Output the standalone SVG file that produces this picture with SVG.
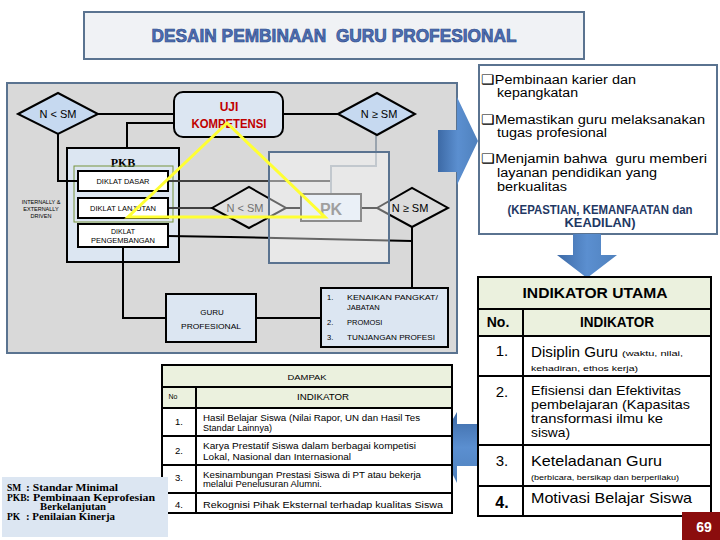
<svg xmlns="http://www.w3.org/2000/svg" width="720" height="540" viewBox="0 0 720 540">
<defs>
<linearGradient id="blueH" x1="0" y1="0" x2="1" y2="0">
<stop offset="0" stop-color="#3d6aa6"/><stop offset="0.5" stop-color="#5b8fd0"/><stop offset="1" stop-color="#4f81bd"/>
</linearGradient>
<linearGradient id="blueV" x1="0" y1="0" x2="0" y2="1">
<stop offset="0" stop-color="#3d6aa6"/><stop offset="0.5" stop-color="#5b8fd0"/><stop offset="1" stop-color="#4f81bd"/>
</linearGradient>
<style>
.s{font-family:"Liberation Sans",Arial,sans-serif}
.ser{font-family:"Liberation Serif","Times New Roman",serif;font-weight:bold}
.blk{stroke:#000;stroke-width:2}
.ln{fill:none;stroke:#000;stroke-width:2}
.lng{fill:none;stroke:#9aa4ae;stroke-width:2}
.hdr{fill:#ebf1de}
.lb{fill:#dce6f2}
.c{text-anchor:middle}
</style>
</defs>
<rect width="720" height="540" fill="#ffffff"/>

<g id="title">
<rect x="84" y="12" width="500" height="47" fill="#f0f2f5" stroke="#5a7390" stroke-width="2"/>
<text class="s c" x="334" y="42" font-size="19" font-weight="bold" fill="#4f6fb4" stroke="#2c4a86" stroke-width="0.7" textLength="365" lengthAdjust="spacingAndGlyphs" xml:space="preserve" style="white-space:pre">DESAIN PEMBINAAN  GURU PROFESIONAL</text>
</g>

<g id="panel">
<rect x="7" y="83" width="450" height="270" fill="#d9d9d9" stroke="#5a7390" stroke-width="2"/>
</g>

<g id="arrow-right">
<path d="M438,130 H457 V97 L478,141 L457,185 V172 H438 Z" fill="url(#blueH)"/>
</g>

<g id="pkb">
<rect x="67" y="148" width="112" height="114" class="lb blk"/>
<text class="ser c" x="123" y="167" font-size="12">PKB</text>
<rect x="74" y="166" width="99" height="56" fill="none" stroke="#77933c" stroke-width="1"/>
</g>

<g id="connectors">
<polyline class="ln" points="98,114 174,114"/>
<polyline class="ln" points="283,114 338,114"/>
<polyline class="ln" points="58,134 58,181 78,181"/>
<polyline class="ln" points="127,148 127,123 174,123"/>
<polyline fill="none" stroke="#404040" stroke-width="2" points="168,181 331,181"/>
<polyline class="lng" points="331,194 331,166 376,166 376,135"/>
<polyline fill="none" stroke="#404040" stroke-width="2" points="168,208 212,208"/>
<polyline class="ln" points="286,208 301,208"/>
<polyline class="ln" points="361,208 377,208"/>
<polyline class="ln" points="168,236 230,237 320,239 412,241"/>
<polyline class="ln" points="412,227 412,288"/>
<polyline class="ln" points="123,247 123,318 166,318"/>
<polyline class="ln" points="256,318 321,318"/>
</g>

<g id="diamond-left">
<polygon points="18,114 58,93 98,114 58,134" fill="#c6d9f0" stroke="#000" stroke-width="2"/>
<text class="s c" x="58" y="118" font-size="11">N &lt; SM</text>
</g>

<g id="uji">
<rect x="174" y="92" width="109" height="45" rx="9" fill="#dce6f2" stroke="#000" stroke-width="2"/>
<text class="s c" x="229" y="111" font-size="12" font-weight="bold" fill="#c00000">UJI</text>
<text class="s c" x="229" y="128" font-size="12" font-weight="bold" fill="#c00000" textLength="75" lengthAdjust="spacingAndGlyphs">KOMPETENSI</text>
</g>

<g id="diamond-top-right">
<polygon points="338,114 377,93 415,114 377,135" fill="#c6d9f0" stroke="#000" stroke-width="2"/>
<text class="s c" x="379" y="118" font-size="11">N ≥ SM</text>
</g>

<g id="diklat-dasar">
<rect x="78" y="171" width="90" height="20" fill="#fff" class="blk"/>
<text class="s c" x="123" y="184" font-size="7" textLength="53" lengthAdjust="spacingAndGlyphs">DIKLAT DASAR</text>
</g>
<g id="diklat-lanjutan">
<rect x="78" y="198" width="90" height="20" fill="#fff" class="blk"/>
<text class="s c" x="123" y="211" font-size="7" textLength="66" lengthAdjust="spacingAndGlyphs">DIKLAT LANJUTAN</text>
</g>
<g id="diklat-pengembangan">
<rect x="78" y="224" width="90" height="23" fill="#fff" class="blk"/>
<text class="s c" x="123" y="234" font-size="7">DIKLAT</text>
<text class="s c" x="123" y="243" font-size="7" textLength="64" lengthAdjust="spacingAndGlyphs">PENGEMBANGAN</text>
</g>

<g id="driven">
<text class="s c" x="41" y="204" font-size="5.5">INTERNALLY &amp;</text>
<text class="s c" x="41" y="211" font-size="5.5">EXTERNALLY</text>
<text class="s c" x="41" y="218" font-size="5.5">DRIVEN</text>
</g>

<g id="diamond-mid">
<polygon points="212,208 249,187 286,208 249,228" fill="#e0e0e0" stroke="#000" stroke-width="2"/>
<text class="s c" x="245" y="212" font-size="11" fill="#6f6f6f">N &lt; SM</text>
</g>

<g id="pk">
<rect x="301" y="194" width="60" height="27" fill="#dce6f2" stroke="#404040" stroke-width="2"/>
<text class="s c" x="331" y="215" font-size="16" font-weight="bold" fill="#606060">PK</text>
</g>

<g id="diamond-low-right">
<polygon points="377,208 412,188 448,208 412,227" fill="#dcdcdc" stroke="#000" stroke-width="2"/>
<text class="s c" x="410" y="212" font-size="11">N ≥ SM</text>
</g>

<g id="pk-area">
<rect x="269" y="152" width="120" height="111" fill="#ffffff" fill-opacity="0.4" stroke="#5a7390" stroke-width="2"/>
</g>

<g id="triangle">
<polygon points="227,123 128,217 325,217" fill="none" stroke="#ffff33" stroke-width="3"/>
</g>

<g id="guru">
<rect x="166" y="294" width="90" height="48" class="lb blk"/>
<text class="s c" x="212" y="315" font-size="8">GURU</text>
<text class="s c" x="211" y="329" font-size="8" textLength="60" lengthAdjust="spacingAndGlyphs">PROFESIONAL</text>
</g>

<g id="benefits">
<rect x="321" y="288" width="127" height="59" class="lb blk"/>
<g class="s" font-size="7.5">
<text x="327" y="300">1.</text><text x="347" y="300" textLength="91" lengthAdjust="spacingAndGlyphs">KENAIKAN PANGKAT/</text>
<text x="347" y="310">JABATAN</text>
<text x="327" y="325">2.</text><text x="347" y="325">PROMOSI</text>
<text x="327" y="340">3.</text><text x="347" y="340" textLength="88" lengthAdjust="spacingAndGlyphs">TUNJANGAN PROFESI</text>
</g>
</g>

<g id="tujuan">
<rect x="479" y="65" width="238" height="169" fill="#fff" stroke="#5a7390" stroke-width="2"/>
<g class="s" font-size="12.5">
<text x="481" y="84" textLength="155" lengthAdjust="spacingAndGlyphs">❑Pembinaan karier dan</text>
<text x="497" y="97" textLength="81" lengthAdjust="spacingAndGlyphs">kepangkatan</text>
<text x="481" y="124" textLength="224" lengthAdjust="spacingAndGlyphs">❑Memastikan guru melaksanakan</text>
<text x="497" y="137" textLength="110" lengthAdjust="spacingAndGlyphs">tugas profesional</text>
<text x="481" y="163" textLength="226" lengthAdjust="spacingAndGlyphs" xml:space="preserve" style="white-space:pre">❑Menjamin bahwa  guru memberi</text>
<text x="497" y="177" textLength="160" lengthAdjust="spacingAndGlyphs">layanan pendidikan yang</text>
<text x="497" y="191" textLength="70" lengthAdjust="spacingAndGlyphs">berkualitas</text>
</g>
<text class="s c" x="600" y="214" font-size="12" font-weight="bold" fill="#1f3864" textLength="185" lengthAdjust="spacingAndGlyphs">(KEPASTIAN, KEMANFAATAN dan</text>
<text class="s c" x="600" y="227" font-size="12" font-weight="bold" fill="#1f3864" textLength="71" lengthAdjust="spacingAndGlyphs">KEADILAN)</text>
</g>

<g id="arrow-down">
<path d="M573,234 H601 V255 H617 L587,278 L557,255 H573 Z" fill="url(#blueH)"/>
</g>

<g id="arrow-left">
<path d="M479,424 V466 H457 V483 L438,445 L457,412 V424 Z" fill="url(#blueV)"/>
</g>

<g id="indikator-utama">
<rect x="478" y="277" width="233" height="32" class="hdr"/>
<rect x="478" y="309" width="233" height="27" class="hdr"/>
<rect x="478" y="336" width="233" height="180" fill="#fff"/>
<g class="ln">
<rect x="478" y="277" width="233" height="239"/>
<line x1="478" y1="309" x2="711" y2="309"/>
<line x1="478" y1="336" x2="711" y2="336"/>
<line x1="478" y1="376" x2="711" y2="376"/>
<line x1="478" y1="445" x2="711" y2="445"/>
<line x1="478" y1="486" x2="711" y2="486"/>
<line x1="523" y1="309" x2="523" y2="516"/>
</g>
<g class="s">
<text class="c" x="595" y="298" font-size="14" font-weight="bold" textLength="145" lengthAdjust="spacingAndGlyphs">INDIKATOR UTAMA</text>
<text class="c" x="498" y="327" font-size="14" font-weight="bold">No.</text>
<text class="c" x="617" y="327" font-size="14" font-weight="bold" textLength="74" lengthAdjust="spacingAndGlyphs">INDIKATOR</text>
<text class="c" x="502" y="356" font-size="15">1.</text>
<text x="531" y="357" font-size="15" textLength="87" lengthAdjust="spacingAndGlyphs">Disiplin Guru</text>
<text x="622" y="356" font-size="8" textLength="61" lengthAdjust="spacingAndGlyphs">(waktu, nilai,</text>
<text x="531" y="371" font-size="8" textLength="107" lengthAdjust="spacingAndGlyphs">kehadiran, ethos kerja)</text>
<text class="c" x="502" y="397" font-size="15">2.</text>
<text x="531" y="395" font-size="13.5" textLength="150" lengthAdjust="spacingAndGlyphs">Efisiensi dan Efektivitas</text>
<text x="531" y="409" font-size="13.5" textLength="159" lengthAdjust="spacingAndGlyphs">pembelajaran (Kapasitas</text>
<text x="531" y="423" font-size="13.5" textLength="132" lengthAdjust="spacingAndGlyphs">transformasi ilmu ke</text>
<text x="531" y="437" font-size="13.5" textLength="39" lengthAdjust="spacingAndGlyphs">siswa)</text>
<text class="c" x="502" y="466" font-size="15">3.</text>
<text x="531" y="466" font-size="15" textLength="131" lengthAdjust="spacingAndGlyphs">Keteladanan Guru</text>
<text x="531" y="480" font-size="8" textLength="148" lengthAdjust="spacingAndGlyphs">(berbicara, bersikap dan berperilaku)</text>
<text class="c" x="502" y="508" font-size="16" font-weight="bold">4.</text>
<text x="531" y="503" font-size="15" textLength="161" lengthAdjust="spacingAndGlyphs">Motivasi Belajar Siswa</text>
</g>
</g>

<g id="dampak">
<rect x="162" y="365" width="290" height="43" class="hdr"/>
<rect x="162" y="408" width="290" height="105" fill="#fff"/>
<g class="ln">
<rect x="162" y="365" width="290" height="148"/>
<line x1="162" y1="387" x2="452" y2="387"/>
<line x1="162" y1="408" x2="452" y2="408"/>
<line x1="162" y1="436" x2="452" y2="436"/>
<line x1="162" y1="465" x2="452" y2="465"/>
<line x1="162" y1="493" x2="452" y2="493"/>
<line x1="196" y1="387" x2="196" y2="513"/>
</g>
<g class="s" font-size="8.5">
<text class="c" x="307" y="380" font-size="8" textLength="39" lengthAdjust="spacingAndGlyphs">DAMPAK</text>
<text class="c" x="173" y="399" font-size="7">No</text>
<text class="c" x="323" y="400" font-size="9" textLength="52" lengthAdjust="spacingAndGlyphs">INDIKATOR</text>
<text class="c" x="179" y="425" font-size="9.5">1.</text>
<text x="203" y="421" textLength="217" lengthAdjust="spacingAndGlyphs">Hasil Belajar Siswa (Nilai Rapor, UN dan Hasil Tes</text>
<text x="203" y="431" textLength="69" lengthAdjust="spacingAndGlyphs">Standar Lainnya)</text>
<text class="c" x="179" y="454" font-size="9.5">2.</text>
<text x="203" y="449" textLength="213" lengthAdjust="spacingAndGlyphs">Karya Prestatif Siswa dalam berbagai kompetisi</text>
<text x="203" y="460" textLength="148" lengthAdjust="spacingAndGlyphs">Lokal, Nasional dan Internasional</text>
<text class="c" x="179" y="481" font-size="9.5">3.</text>
<text x="203" y="478" textLength="218" lengthAdjust="spacingAndGlyphs">Kesinambungan Prestasi Siswa di PT atau bekerja</text>
<text x="203" y="487" textLength="119" lengthAdjust="spacingAndGlyphs">melalui Penelusuran Alumni.</text>
<text class="c" x="179" y="508" font-size="9.5">4.</text>
<text x="203" y="508" textLength="240" lengthAdjust="spacingAndGlyphs">Rekognisi Pihak Eksternal terhadap kualitas Siswa</text>
</g>
</g>

<g id="legend">
<rect x="2" y="477" width="166" height="60" fill="#dce6f2"/>
<g class="ser" font-size="9.5">
<text x="7" y="491">SM</text><text x="26" y="491" textLength="92" lengthAdjust="spacingAndGlyphs">: Standar Minimal</text>
<text x="7" y="501">PKB</text><text x="26" y="501" textLength="129" lengthAdjust="spacingAndGlyphs">: Pembinaan Keprofesian</text>
<text x="40" y="510" textLength="66" lengthAdjust="spacingAndGlyphs">Berkelanjutan</text>
<text x="7" y="520">PK</text><text x="26" y="520" textLength="89" lengthAdjust="spacingAndGlyphs">: Penilaian Kinerja</text>
</g>
</g>

<g id="page-number">
<rect x="682" y="512" width="38" height="28" fill="#8b0d0d"/>
<text class="s c" x="704" y="532" font-size="14" font-weight="bold" fill="#fff">69</text>
</g>
</svg>
